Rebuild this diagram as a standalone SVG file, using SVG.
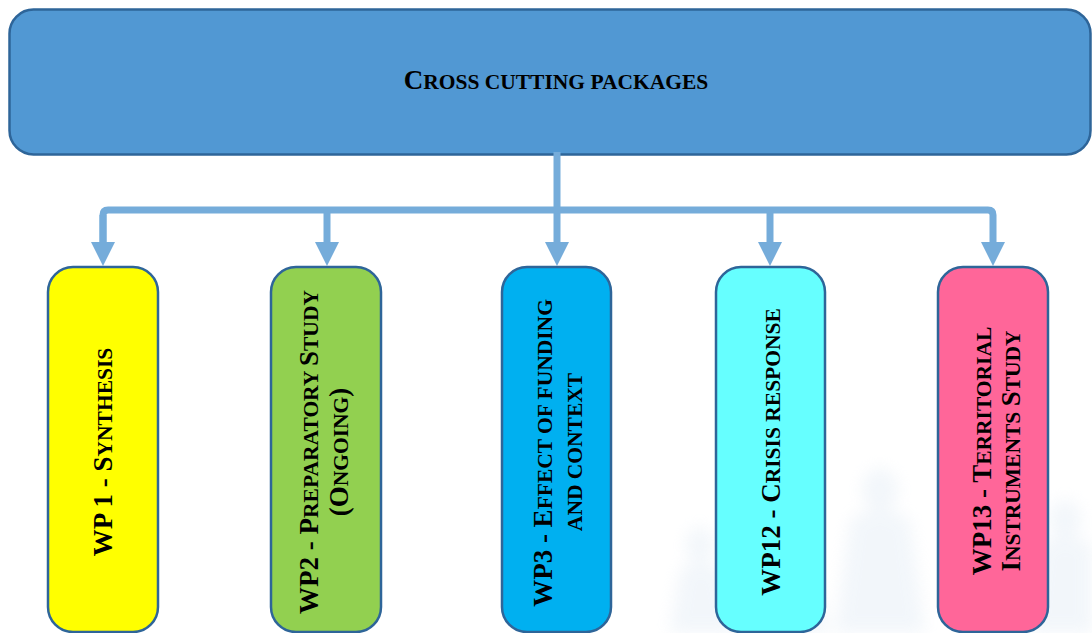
<svg xmlns="http://www.w3.org/2000/svg" width="1092" height="633" viewBox="0 0 1092 633">
<defs>
<style>
.box{stroke:#2E6599;stroke-width:2.5}
.lbl{font-family:"Liberation Serif","Times New Roman",serif;font-weight:bold;fill:#000;text-anchor:middle}
.L{font-size:27px}
.s{font-size:21.5px}
.conn{fill:none;stroke:#75ACDA;stroke-width:7;stroke-linejoin:round}
</style>
<marker id="ah" markerUnits="userSpaceOnUse" markerWidth="24" markerHeight="24" viewBox="0 0 24 24" refX="0" refY="12" orient="auto">
<path d="M0,0 L24,12 L0,24 Z" fill="#75ACDA"/>
</marker>
<filter id="blur" x="-30%" y="-30%" width="160%" height="160%"><feGaussianBlur stdDeviation="8"/></filter>
</defs>
<rect width="1092" height="633" fill="#fff"/>
<g id="watermark" fill="#e3ecf5" opacity="0.45" filter="url(#blur)">
<ellipse cx="880" cy="490" rx="18" ry="22"/>
<path d="M850,520 Q880,500 910,520 L925,633 L835,633 Z"/>
<ellipse cx="700" cy="545" rx="14" ry="18"/>
<path d="M680,570 Q700,555 722,570 L735,633 L670,633 Z"/>
<ellipse cx="1065" cy="520" rx="16" ry="20"/>
<path d="M1040,545 Q1065,530 1092,545 L1092,633 L1030,633 Z"/>
<path d="M740,600 Q780,585 820,600 L830,633 L735,633 Z"/>
</g>
<g id="top">
<rect class="box" x="9.5" y="9.5" width="1081" height="145" rx="24" fill="#5198D3"/>
<text class="lbl" x="556" y="89"><tspan class="L">C</tspan><tspan class="s">ROSS CUTTING PACKAGES</tspan></text>
</g>
<g id="connectors">
<path class="conn" d="M557,152 V242" marker-end="url(#ah)"/>
<path class="conn" d="M103,242 V215 Q103,210 108,210 H988 Q993,210 993,215 V242" marker-end="url(#ah)"/>
<path class="conn" d="M103,215 V242" marker-end="url(#ah)"/>
<path class="conn" d="M327,210 V242" marker-end="url(#ah)"/>
<path class="conn" d="M770,210 V242" marker-end="url(#ah)"/>
</g>
<g id="wp1">
<rect class="box" x="48" y="267" width="110" height="365" rx="25" fill="#FFFF00"/>
<text class="lbl" transform="translate(112,452) rotate(-90)"><tspan class="L">WP 1 - S</tspan><tspan class="s">YNTHESIS</tspan></text>
</g>
<g id="wp2">
<rect class="box" x="271" y="267" width="110" height="365" rx="25" fill="#92D050"/>
<text class="lbl" transform="translate(318,452) rotate(-90)"><tspan class="L">WP2 - P</tspan><tspan class="s">REPARATORY </tspan><tspan class="L">S</tspan><tspan class="s">TUDY</tspan></text>
<text class="lbl" transform="translate(348,452) rotate(-90)"><tspan class="L">(O</tspan><tspan class="s">NGOING</tspan><tspan class="L">)</tspan></text>
</g>
<g id="wp3">
<rect class="box" x="502" y="267" width="109" height="365" rx="25" fill="#00B0F0"/>
<text class="lbl" transform="translate(552,453) rotate(-90)"><tspan class="L">WP3 - E</tspan><tspan class="s">FFECT OF FUNDING</tspan></text>
<text class="lbl s" transform="translate(582,452) rotate(-90)">AND CONTEXT</text>
</g>
<g id="wp12">
<rect class="box" x="716" y="267" width="109" height="365" rx="25" fill="#66FFFF"/>
<text class="lbl" transform="translate(780,452) rotate(-90)"><tspan class="L">WP12 - C</tspan><tspan class="s">RISIS RESPONSE</tspan></text>
</g>
<g id="wp13">
<rect class="box" x="938" y="267" width="110" height="365" rx="25" fill="#FF6699"/>
<text class="lbl" transform="translate(991,451) rotate(-90)"><tspan class="L">WP13 - T</tspan><tspan class="s">ERRITORIAL</tspan></text>
<text class="lbl" transform="translate(1020,451) rotate(-90)"><tspan class="L">I</tspan><tspan class="s">NSTRUMENTS </tspan><tspan class="L">S</tspan><tspan class="s">TUDY</tspan></text>
</g>
</svg>
